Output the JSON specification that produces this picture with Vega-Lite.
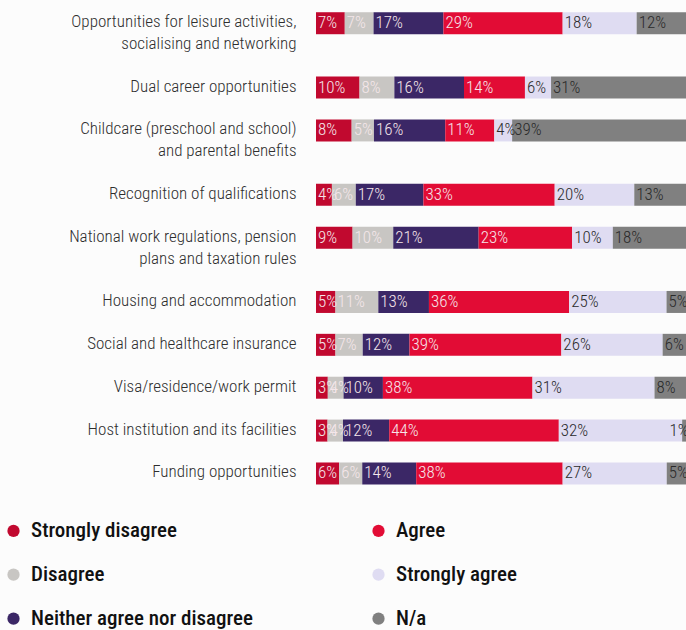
{
  "$schema": "https://vega.github.io/schema/vega-lite/v6.json",
  "width": 370,
  "height": 471.7,
  "autosize": {"type": "none"},
  "padding": {"left": 316, "top": 12.5, "right": 0, "bottom": 145.8},
  "background": "#fcfcfc",
  "config": {
    "view": {"stroke": null},
    "font": "Roboto Condensed, sans-serif"
  },
  "data": {
    "values": [
      {"item": "Opportunities for leisure activities, socialising and networking", "response": "Strongly disagree", "pct": 7},
      {"item": "Opportunities for leisure activities, socialising and networking", "response": "Disagree", "pct": 7},
      {"item": "Opportunities for leisure activities, socialising and networking", "response": "Neither agree nor disagree", "pct": 17},
      {"item": "Opportunities for leisure activities, socialising and networking", "response": "Agree", "pct": 29},
      {"item": "Opportunities for leisure activities, socialising and networking", "response": "Strongly agree", "pct": 18},
      {"item": "Opportunities for leisure activities, socialising and networking", "response": "N/a", "pct": 12},
      {"item": "Dual career opportunities", "response": "Strongly disagree", "pct": 10},
      {"item": "Dual career opportunities", "response": "Disagree", "pct": 8},
      {"item": "Dual career opportunities", "response": "Neither agree nor disagree", "pct": 16},
      {"item": "Dual career opportunities", "response": "Agree", "pct": 14},
      {"item": "Dual career opportunities", "response": "Strongly agree", "pct": 6},
      {"item": "Dual career opportunities", "response": "N/a", "pct": 31},
      {"item": "Childcare (preschool and school) and parental benefits", "response": "Strongly disagree", "pct": 8},
      {"item": "Childcare (preschool and school) and parental benefits", "response": "Disagree", "pct": 5},
      {"item": "Childcare (preschool and school) and parental benefits", "response": "Neither agree nor disagree", "pct": 16},
      {"item": "Childcare (preschool and school) and parental benefits", "response": "Agree", "pct": 11},
      {"item": "Childcare (preschool and school) and parental benefits", "response": "Strongly agree", "pct": 4},
      {"item": "Childcare (preschool and school) and parental benefits", "response": "N/a", "pct": 39},
      {"item": "Recognition of qualifications", "response": "Strongly disagree", "pct": 4},
      {"item": "Recognition of qualifications", "response": "Disagree", "pct": 6},
      {"item": "Recognition of qualifications", "response": "Neither agree nor disagree", "pct": 17},
      {"item": "Recognition of qualifications", "response": "Agree", "pct": 33},
      {"item": "Recognition of qualifications", "response": "Strongly agree", "pct": 20},
      {"item": "Recognition of qualifications", "response": "N/a", "pct": 13},
      {"item": "National work regulations, pension plans and taxation rules", "response": "Strongly disagree", "pct": 9},
      {"item": "National work regulations, pension plans and taxation rules", "response": "Disagree", "pct": 10},
      {"item": "National work regulations, pension plans and taxation rules", "response": "Neither agree nor disagree", "pct": 21},
      {"item": "National work regulations, pension plans and taxation rules", "response": "Agree", "pct": 23},
      {"item": "National work regulations, pension plans and taxation rules", "response": "Strongly agree", "pct": 10},
      {"item": "National work regulations, pension plans and taxation rules", "response": "N/a", "pct": 18},
      {"item": "Housing and accommodation", "response": "Strongly disagree", "pct": 5},
      {"item": "Housing and accommodation", "response": "Disagree", "pct": 11},
      {"item": "Housing and accommodation", "response": "Neither agree nor disagree", "pct": 13},
      {"item": "Housing and accommodation", "response": "Agree", "pct": 36},
      {"item": "Housing and accommodation", "response": "Strongly agree", "pct": 25},
      {"item": "Housing and accommodation", "response": "N/a", "pct": 5},
      {"item": "Social and healthcare insurance", "response": "Strongly disagree", "pct": 5},
      {"item": "Social and healthcare insurance", "response": "Disagree", "pct": 7},
      {"item": "Social and healthcare insurance", "response": "Neither agree nor disagree", "pct": 12},
      {"item": "Social and healthcare insurance", "response": "Agree", "pct": 39},
      {"item": "Social and healthcare insurance", "response": "Strongly agree", "pct": 26},
      {"item": "Social and healthcare insurance", "response": "N/a", "pct": 6},
      {"item": "Visa/residence/work permit", "response": "Strongly disagree", "pct": 3},
      {"item": "Visa/residence/work permit", "response": "Disagree", "pct": 4},
      {"item": "Visa/residence/work permit", "response": "Neither agree nor disagree", "pct": 10},
      {"item": "Visa/residence/work permit", "response": "Agree", "pct": 38},
      {"item": "Visa/residence/work permit", "response": "Strongly agree", "pct": 31},
      {"item": "Visa/residence/work permit", "response": "N/a", "pct": 8},
      {"item": "Host institution and its facilities", "response": "Strongly disagree", "pct": 3},
      {"item": "Host institution and its facilities", "response": "Disagree", "pct": 4},
      {"item": "Host institution and its facilities", "response": "Neither agree nor disagree", "pct": 12},
      {"item": "Host institution and its facilities", "response": "Agree", "pct": 44},
      {"item": "Host institution and its facilities", "response": "Strongly agree", "pct": 32},
      {"item": "Host institution and its facilities", "response": "N/a", "pct": 1},
      {"item": "Funding opportunities", "response": "Strongly disagree", "pct": 6},
      {"item": "Funding opportunities", "response": "Disagree", "pct": 6},
      {"item": "Funding opportunities", "response": "Neither agree nor disagree", "pct": 14},
      {"item": "Funding opportunities", "response": "Agree", "pct": 38},
      {"item": "Funding opportunities", "response": "Strongly agree", "pct": 27},
      {"item": "Funding opportunities", "response": "N/a", "pct": 5}
    ]
  },
  "transform": [
    {"calculate": "indexof(['Strongly disagree','Disagree','Neither agree nor disagree','Agree','Strongly agree','N/a'], datum.response)", "as": "k"},
    {"calculate": "datum.pct + '%'", "as": "label"},
    {"stack": "pct", "groupby": ["item"], "sort": [{"field": "k", "order": "ascending"}], "offset": "normalize", "as": ["x0", "x1"]},
    {"calculate": "min(datum.x0, 0.95)", "as": "tx"}
  ],
  "encoding": {
    "y": {
      "field": "item",
      "type": "nominal",
      "scale": {
        "domain": [
          "Opportunities for leisure activities, socialising and networking", "_s1", "_s2",
          "Dual career opportunities", "_s3",
          "Childcare (preschool and school) and parental benefits", "_s4", "_s5",
          "Recognition of qualifications", "_s6",
          "National work regulations, pension plans and taxation rules", "_s7", "_s8",
          "Housing and accommodation", "_s9",
          "Social and healthcare insurance", "_s10",
          "Visa/residence/work permit", "_s11",
          "Host institution and its facilities", "_s12",
          "Funding opportunities"
        ],
        "paddingInner": 0,
        "paddingOuter": 0
      },
      "axis": {
        "title": null,
        "domain": false,
        "ticks": false,
        "labelPadding": 20,
        "labelFont": "Roboto Condensed, sans-serif",
        "labelFontSize": 17,
        "labelFontWeight": 300,
        "labelColor": "#2e2e2e",
        "labelLineHeight": 22,
        "labelBaseline": "line-top",
        "labelOffset": -12,
        "labelLimit": 320,
        "labelExpr": "indexof(datum.value, '_s') == 0 ? '' : datum.value == 'Opportunities for leisure activities, socialising and networking' ? ['Opportunities for leisure activities,', 'socialising and networking'] : datum.value == 'Childcare (preschool and school) and parental benefits' ? ['Childcare (preschool and school)', 'and parental benefits'] : datum.value == 'National work regulations, pension plans and taxation rules' ? ['National work regulations, pension', 'plans and taxation rules'] : datum.value"
      }
    }
  },
  "layer": [
    {
      "mark": {"type": "bar", "height": 22},
      "encoding": {
        "x": {"field": "x0", "type": "quantitative", "scale": {"domain": [0, 1], "nice": false}, "axis": null},
        "x2": {"field": "x1"},
        "color": {
          "field": "response",
          "type": "nominal",
          "scale": {
            "domain": ["Strongly disagree", "Disagree", "Neither agree nor disagree", "Agree", "Strongly agree", "N/a"],
            "range": ["#c1092f", "#c8c6c3", "#3b2766", "#e20c35", "#dfdcf2", "#808080"]
          },
          "legend": {
            "title": null,
            "orient": "none",
            "legendX": -313,
            "legendY": 507.7,
            "direction": "vertical",
            "columns": 2,
            "symbolType": "circle",
            "symbolSize": 150,
            "symbolStrokeWidth": 0,
            "labelFont": "Roboto Condensed, sans-serif",
            "labelFontSize": 21,
            "labelFontWeight": 500,
            "labelColor": "#111111",
            "labelOffset": 7,
            "labelLimit": 400,
            "rowPadding": 22,
            "columnPadding": 115
          }
        }
      }
    },
    {
      "mark": {"type": "text", "align": "left", "baseline": "middle", "dx": 2, "fontSize": 17, "fontWeight": 300},
      "encoding": {
        "x": {"field": "tx", "type": "quantitative"},
        "text": {"field": "label", "type": "nominal"},
        "color": {
          "condition": {"test": "datum.response == 'Strongly agree' || datum.response == 'N/a'", "value": "#2a2a2a"},
          "value": "#f5e6ea"
        }
      }
    }
  ]
}
